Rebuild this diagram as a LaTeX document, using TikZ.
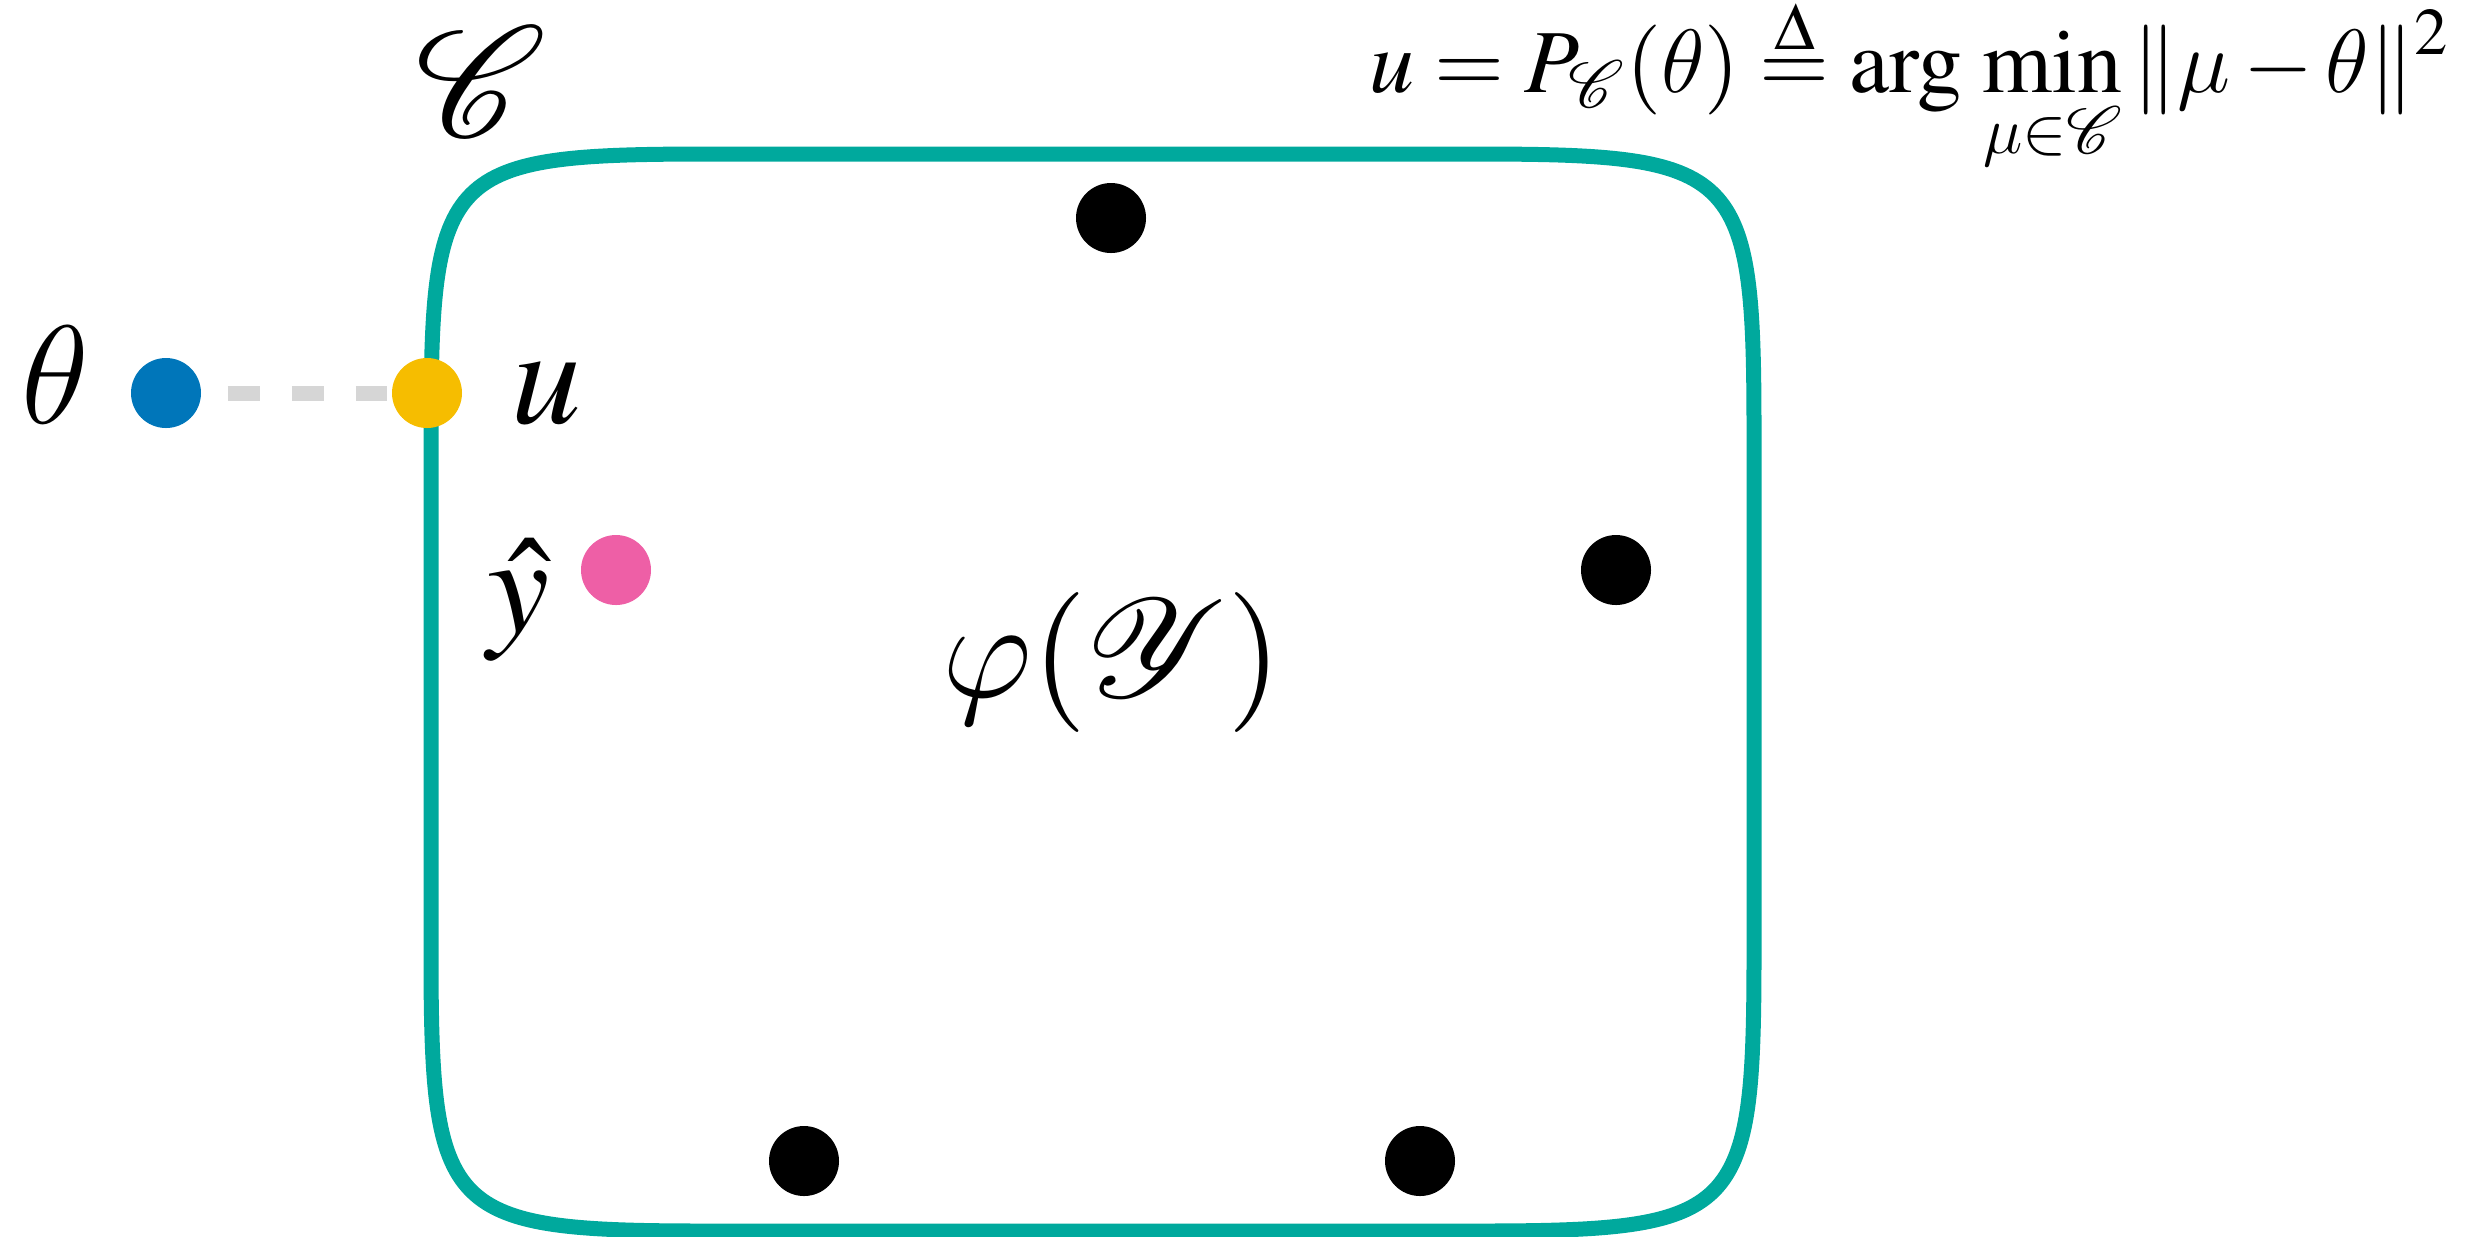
\RequirePackage{fix-cm}
\documentclass[tikz,border=0pt]{standalone}
\usepackage{amsmath,amssymb}
\usepackage{mathptmx}
\usepackage{graphicx}
\DeclareSymbolFont{cmletters}{OML}{cmm}{m}{it}
\DeclareMathSymbol{\theta}{\mathord}{cmletters}{"12}
\DeclareMathSymbol{\mu}{\mathord}{cmletters}{"16}
\DeclareMathSymbol{\varphi}{\mathord}{cmletters}{"27}
\DeclareFontFamily{U}{rsfsx}{\skewchar\font127}
\DeclareFontShape{U}{rsfsx}{m}{n}{<-> rsfs10}{}
\DeclareMathAlphabet{\myscr}{U}{rsfsx}{m}{n}
\definecolor{tealc}{HTML}{00A99D}
\definecolor{bluec}{HTML}{0076BA}
\definecolor{yellowc}{HTML}{F6BD00}
\definecolor{pinkc}{HTML}{EE5FA6}
\definecolor{grayc}{HTML}{D6D6D6}
\newcommand{\deq}{\mathrel{\overset{\raisebox{-2.5pt}{$\scriptstyle\Delta$}}{=}}}
\tikzset{
  boxline/.style={draw=tealc, line width=3.75pt},
  dot/.style={circle, inner sep=0pt, minimum size=17.5pt},
  dashline/.style={draw=grayc, line width=3.75pt, dash pattern=on 8pt off 8pt},
  biglbl/.style={inner sep=0pt, font=\fontsize{35}{40}\selectfont},
  formula/.style={inner sep=0pt, font=\fontsize{22.5}{27}\selectfont},
}
\begin{document}
\begin{tikzpicture}[x=0.25pt, y=-0.25pt]
\useasboundingbox (0,0) rectangle (2482,1236);
% rounded region C
\draw[boxline] (431,434) .. controls (431,168) and (445,154) .. (711,154)
  -- (1474,154) .. controls (1740,154) and (1754,168) .. (1754,434)
  -- (1754,951) .. controls (1754,1217) and (1740,1231) .. (1474,1231)
  -- (711,1231) .. controls (445,1231) and (431,1217) .. (431,951) -- cycle;
% points
\node[dot, fill=black] (p1) at (1111,218) {};
\node[dot, fill=black] (p2) at (1616,570) {};
\node[dot, fill=black] (p3) at (804,1161) {};
\node[dot, fill=black] (p4) at (1420,1161) {};
\node[dot, fill=bluec] (thetadot) at (166,393) {};
\node[dot, fill=yellowc] (udot) at (427,393) {};
\node[dot, fill=pinkc] (yhatdot) at (616,570) {};
\draw[dashline, shorten <=6.5pt, shorten >=1pt] (thetadot) -- (udot);
% labels
\node[biglbl, anchor=base] (thetalbl) at (55,423) {$\theta$};
\node[biglbl, anchor=base] (ulbl) at (546,423) {$u$};
\node[biglbl, anchor=base] (yhatlbl) at (519,632) {$\hat{y}$};
\node[biglbl, anchor=base] (clbl) at (481,136) {\scalebox{1.12}{$\myscr{C}$}};
\node[biglbl, anchor=base] (philbl) at (1112,697) {$\varphi(\myscr{Y})$};
\node[formula, anchor=base west] (eq) at (1369,92)
  {$\displaystyle u = P_{\myscr{C}}(\theta) \deq \arg\,\min_{\mu\in\myscr{C}} \|\mu-\theta\|^2$};
\end{tikzpicture}
\end{document}
